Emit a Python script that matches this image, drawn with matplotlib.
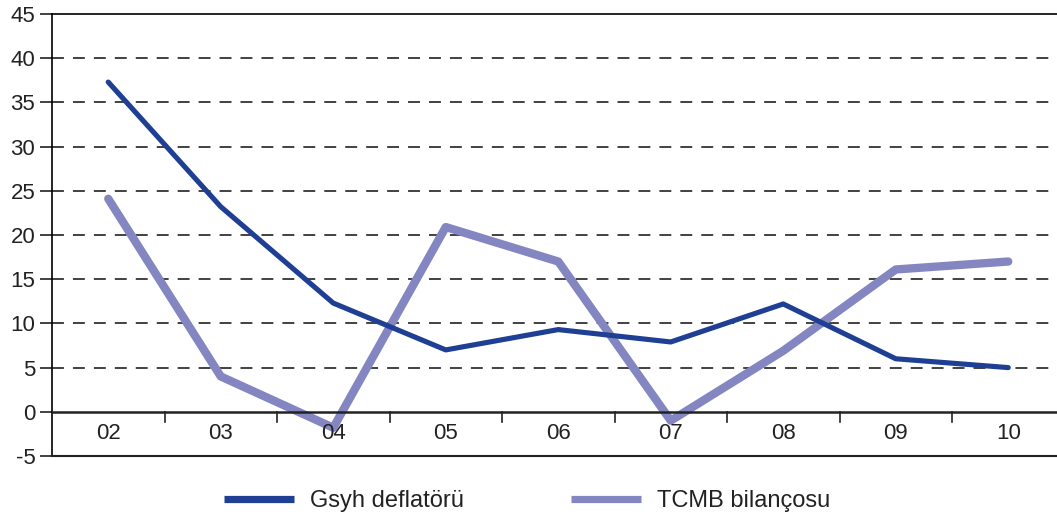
import matplotlib
matplotlib.use("Agg")
import matplotlib.pyplot as plt
import numpy as np

# Data
years = ["02", "03", "04", "05", "06", "07", "08", "09", "10"]
gsyh_deflator = [37.3, 23.2, 12.3, 7.0, 9.3, 7.9, 12.2, 6.0, 5.0]
tcmb_balance = [24.1, 4.0, -1.8, 20.9, 17.0, -1.0, 6.9, 16.1, 17.0]
y_ticks = [-5, 0, 5, 10, 15, 20, 25, 30, 35, 40, 45]

plt.rcParams["font.family"] = ["Liberation Sans", "DejaVu Sans"]
plt.rcParams["axes.unicode_minus"] = False

dark_blue = "#1f3f94"
light_purple = "#8386c0"
ink = "#222222"

fig = plt.figure(figsize=(10.57, 5.18), dpi=100)
ax = fig.add_axes([52 / 1057, 1 - 456 / 518, 1012.5 / 1057, 442 / 518])

x = np.arange(len(years))
ax.set_xlim(-0.5, len(years) - 0.5)
ax.set_ylim(-5, 45)

# Dashed horizontal grid lines
for v in y_ticks:
    if v in (-5, 0, 45):
        continue
    ax.axhline(v, color="#333333", lw=1.3, dashes=(6.6, 5.0), zorder=1)

# Series
ax.plot(x, gsyh_deflator, color=dark_blue, lw=3.7, label="Gsyh deflatörü",
        solid_capstyle="round", zorder=3)
ax.plot(x, tcmb_balance, color=light_purple, lw=6.0, label="TCMB bilançosu",
        solid_capstyle="round", zorder=2)

# Axes: x axis runs along zero, frame lines at -5 and 45
ax.spines["right"].set_visible(False)
ax.spines["bottom"].set_visible(False)
ax.spines["top"].set_linewidth(1.2)
ax.spines["left"].set_linewidth(1.2)
ax.axhline(-5, color=ink, lw=1.5, zorder=4, clip_on=False)
ax.axhline(0, color=ink, lw=1.8, zorder=4)

# Category boundary tick marks hanging below the zero line
for b in np.arange(0.5, len(years) - 0.5, 1.0):
    ax.plot([b, b], [0, -1.1], color=ink, lw=1.2, zorder=4)

ax.set_xticks([])
for xi, label in zip(x, years):
    ax.text(xi, -2.4, label, ha="center", va="center", fontsize=16, color=ink)

ax.set_yticks(y_ticks)
ax.tick_params(axis="y", direction="out", length=9, width=1.2, labelsize=16,
               pad=3, colors=ink)

leg = fig.legend(loc="center", bbox_to_anchor=(527 / 1057, 1 - 501 / 518), ncol=2,
                 frameon=False, fontsize=17, handlelength=2.97, handletextpad=0.68,
                 columnspacing=4.5, labelcolor=ink)
for h in leg.get_lines():
    h.set_linewidth(5.2)
    h.set_solid_capstyle("butt")

fig.savefig("out.png", dpi=100)
